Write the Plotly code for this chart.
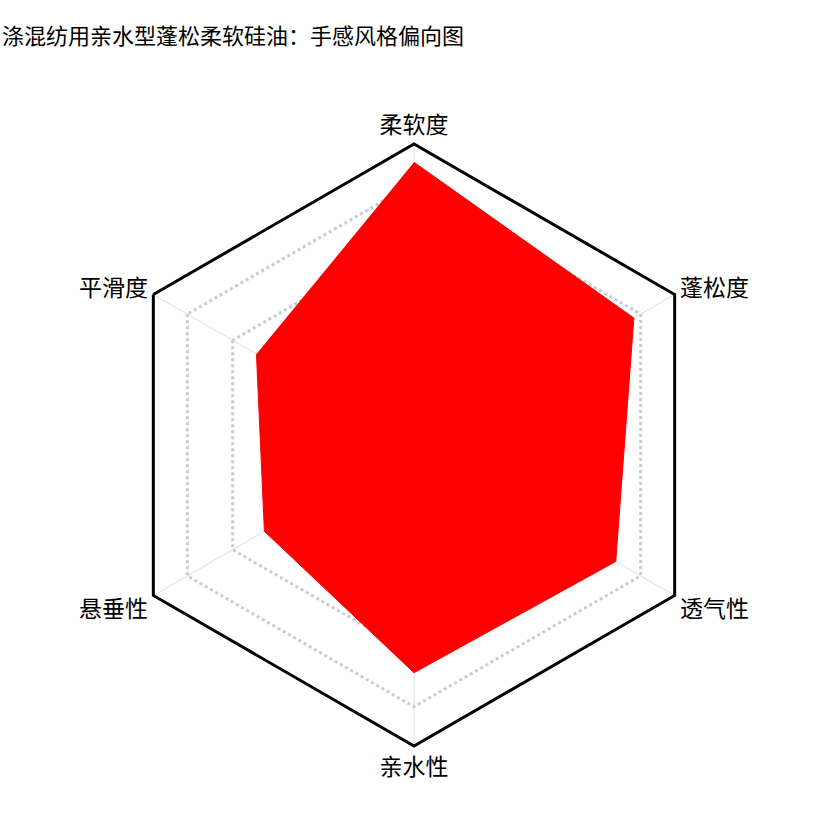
import plotly.graph_objects as go

# hand-feel dimensions of the silicone oil, clockwise from the top
categories = ['柔软度', '蓬松度', '透气性', '亲水性', '悬垂性', '平滑度']
scores = [108, 97, 89, 87, 66, 69.5]

title_text = '涤混纺用亲水型蓬松柔软硅油：手感风格偏向图'
FONT = 'Noto Sans CJK SC, sans-serif'

L, R, T, B = 113, 102, 144, 68
W = 817 - L - R

fig = go.Figure()
fig.add_trace(go.Scatterpolar(
    r=scores,
    theta=categories,
    mode='lines',
    fill='toself',
    fillcolor='#ff0000',
    line=dict(color='#ff0000', width=1),
    hoverinfo='skip',
    showlegend=False,
))

# title as annotation, flush with the left edge of the page
fig.add_annotation(
    text=title_text, xref='paper', yref='paper',
    x=-L / W, y=1 + (T - 34) / W,
    xanchor='left', yanchor='middle', showarrow=False,
    font=dict(family=FONT, size=22, color='#000'),
)

fig.update_layout(
    width=817, height=814,
    paper_bgcolor='white',
    margin=dict(l=L, r=R, t=T, b=B),
    font=dict(family=FONT, size=23, color='#000'),
    polar=dict(
        bgcolor='white',
        gridshape='linear',
        domain=dict(x=[0, 1], y=[0, 1]),
        radialaxis=dict(range=[0, 115], dtick=20, showline=False,
                        showticklabels=False, ticks='',
                        gridcolor='#cccccc', gridwidth=2.5, griddash='dot'),
        angularaxis=dict(rotation=90, direction='clockwise',
                         showline=True, linecolor='#000', linewidth=3,
                         gridcolor='#dddddd', gridwidth=1, ticks='',
                         tickfont=dict(family=FONT, size=23, color='#000')),
    ),
)

# drop the default 8px body margin so the figure sits at the page corner
fig.write_html('out.html', config={'displayModeBar': False},
               post_script="document.body.style.margin='0px';")
